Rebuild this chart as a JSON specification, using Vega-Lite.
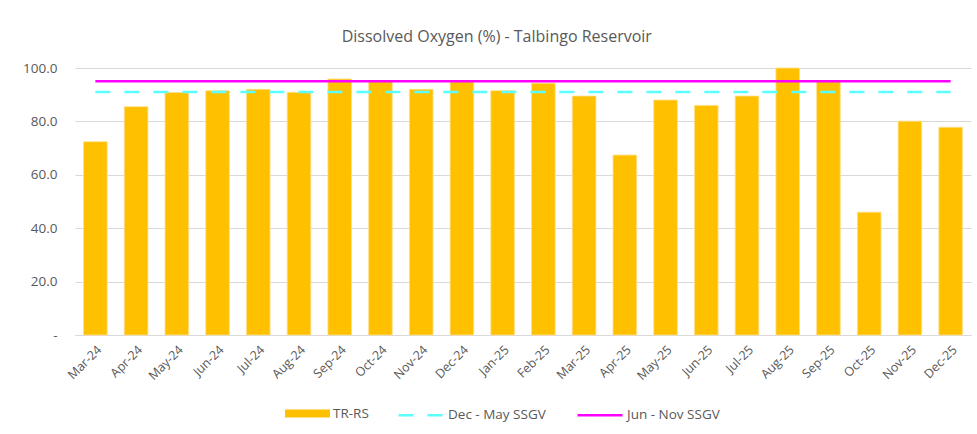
{
  "$schema": "https://vega.github.io/schema/vega-lite/v6.json",
  "width": 896,
  "height": 267,
  "autosize": {"type": "none"},
  "padding": {"left": 75, "top": 68, "right": 6, "bottom": 99},
  "background": "white",
  "title": {
    "text": "Dissolved Oxygen (%) - Talbingo Reservoir",
    "font": "Open Sans",
    "fontSize": 16,
    "fontWeight": "normal",
    "color": "#595959",
    "anchor": "middle",
    "frame": "bounds",
    "offset": 16
  },
  "config": {
    "view": {"stroke": null},
    "font": "Open Sans",
    "legend": {
      "title": null,
      "orient": "none",
      "direction": "horizontal",
      "labelFont": "Open Sans",
      "labelFontSize": 13.5,
      "labelColor": "#595959",
      "columnPadding": 26,
      "labelOffset": 3,
      "symbolSize": 2025,
      "padding": 0
    }
  },
  "datasets": {
    "bars": [
      {"month": "Mar-24", "value": 72.4, "series": "TR-RS"},
      {"month": "Apr-24", "value": 85.5, "series": "TR-RS"},
      {"month": "May-24", "value": 90.8, "series": "TR-RS"},
      {"month": "Jun-24", "value": 91.5, "series": "TR-RS"},
      {"month": "Jul-24", "value": 92.0, "series": "TR-RS"},
      {"month": "Aug-24", "value": 90.9, "series": "TR-RS"},
      {"month": "Sep-24", "value": 95.9, "series": "TR-RS"},
      {"month": "Oct-24", "value": 94.9, "series": "TR-RS"},
      {"month": "Nov-24", "value": 92.0, "series": "TR-RS"},
      {"month": "Dec-24", "value": 94.9, "series": "TR-RS"},
      {"month": "Jan-25", "value": 91.5, "series": "TR-RS"},
      {"month": "Feb-25", "value": 94.3, "series": "TR-RS"},
      {"month": "Mar-25", "value": 89.5, "series": "TR-RS"},
      {"month": "Apr-25", "value": 67.4, "series": "TR-RS"},
      {"month": "May-25", "value": 88.0, "series": "TR-RS"},
      {"month": "Jun-25", "value": 86.0, "series": "TR-RS"},
      {"month": "Jul-25", "value": 89.5, "series": "TR-RS"},
      {"month": "Aug-25", "value": 100.0, "series": "TR-RS"},
      {"month": "Sep-25", "value": 94.9, "series": "TR-RS"},
      {"month": "Oct-25", "value": 46.0, "series": "TR-RS"},
      {"month": "Nov-25", "value": 80.1, "series": "TR-RS"},
      {"month": "Dec-25", "value": 77.8, "series": "TR-RS"}
    ],
    "lines": [
      {"series": "Dec - May SSGV", "start": "Mar-24", "end": "Dec-25", "value": 91},
      {"series": "Jun - Nov SSGV", "start": "Mar-24", "end": "Dec-25", "value": 95}
    ]
  },
  "layer": [
    {
      "data": {"name": "bars"},
      "mark": {"type": "bar", "stroke": "#FFE08A", "strokeWidth": 0.8},
      "encoding": {
        "x": {
          "field": "month",
          "type": "nominal",
          "sort": null,
          "scale": {"paddingInner": 0.42, "paddingOuter": 0.21},
          "axis": {
            "title": null,
            "labelAngle": -45,
            "labelFont": "Open Sans",
            "labelFontSize": 12.5,
            "labelColor": "#595959",
            "labelPadding": 8,
            "ticks": false,
            "domainColor": "#D9D9D9",
            "domainWidth": 1,
            "grid": false
          }
        },
        "y": {
          "field": "value",
          "type": "quantitative",
          "scale": {"domain": [0, 100], "nice": false},
          "axis": {
            "title": null,
            "values": [0, 20, 40, 60, 80, 100],
            "labelExpr": "datum.value == 0 ? '-' : format(datum.value, '.1f')",
            "labelFont": "Open Sans",
            "labelFontSize": 13.5,
            "labelColor": "#595959",
            "labelPadding": 18,
            "ticks": false,
            "domain": false,
            "gridColor": "#D9D9D9",
            "gridWidth": 1
          }
        },
        "fill": {
          "field": "series",
          "type": "nominal",
          "scale": {"domain": ["TR-RS"], "range": ["#FFC000"]},
          "legend": {
            "legendX": 210,
            "legendY": 323,
            "symbolType": "M-1,-0.18H1V0.18H-1Z",
            "symbolStrokeWidth": 0
          }
        }
      }
    },
    {
      "data": {"name": "lines"},
      "mark": {"type": "rule", "strokeWidth": 2.5},
      "encoding": {
        "x": {"field": "start", "type": "nominal", "sort": null},
        "x2": {"field": "end"},
        "y": {"field": "value", "type": "quantitative"},
        "stroke": {
          "field": "series",
          "type": "nominal",
          "scale": {"domain": ["Dec - May SSGV", "Jun - Nov SSGV"], "range": ["#5CFFFF", "#FF00FF"]},
          "legend": {
            "legendX": 322,
            "legendY": 323,
            "symbolType": "M-1,0H1",
            "symbolStrokeWidth": 2.5
          }
        },
        "strokeDash": {
          "field": "series",
          "type": "nominal",
          "scale": {"domain": ["Dec - May SSGV", "Jun - Nov SSGV"], "range": [[15, 14], [1, 0]]},
          "legend": {
            "legendX": 322,
            "legendY": 323,
            "symbolType": "M-1,0H1",
            "symbolStrokeWidth": 2.5
          }
        }
      }
    }
  ]
}
